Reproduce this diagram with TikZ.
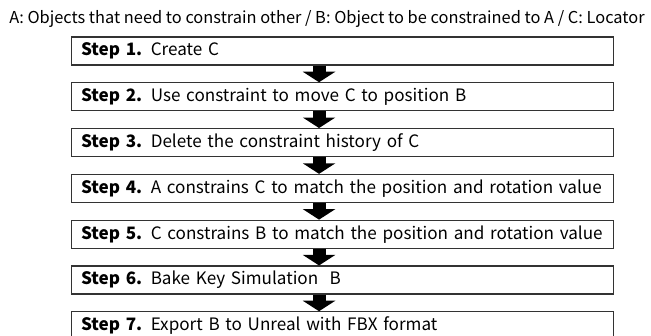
\documentclass[tikz,border=0pt]{standalone}
\usepackage{fontspec}
\setmainfont{Noto Sans CJK KR}
\usepackage{tikz}
\usetikzlibrary{arrows.meta}
\tikzset{
  stepbox/.style={
    draw=black!80,
    line width=1.1pt,
    rectangle,
    anchor=west,
    minimum width=542pt,
    minimum height=28pt,
    inner xsep=1pt,
    inner ysep=0pt,
    text width=540pt,
    align=left,
    font=\fontsize{17.1}{19}\selectfont},
  flow/.style={
    line width=13pt,
    -{Triangle[width=32pt,length=10.5pt]},
    black}
  }
\newcommand{\stp}[1]{\hspace*{8.5pt}\textbf{Step #1.}}

\begin{document}
\begin{tikzpicture}[x=1pt,y=1pt]
    \useasboundingbox (0,0) rectangle (651,336);
    \node (legend) at (327,317) {\fontsize{16.4}{18}\selectfont A: Objects that need to constrain other / B: Object to be constrained to A / C: Locator};
    \node[stepbox] (s1) at (71,285.0) {\stp{1} Create C};
    \node[stepbox] (s2) at (71,239.2) {\stp{2} Use constraint to move C to position B};
    \node[stepbox] (s3) at (71,193.4) {\stp{3} Delete the constraint history of C};
    \node[stepbox] (s4) at (71,147.6) {\stp{4} A constrains C to match the position and rotation value};
    \node[stepbox] (s5) at (71,101.8) {\stp{5} C constrains B to match the position and rotation value};
    \node[stepbox] (s6) at (71,56.0) {\stp{6} Bake Key Simulation~ B};
    \node[stepbox] (s7) at (71,10.2) {\stp{7} Export B to Unreal with FBX format};
    \draw [flow] ([xshift=-23.5pt]s1.south) -- ([xshift=-23.5pt]s2.north);
    \draw [flow] ([xshift=-23.5pt]s2.south) -- ([xshift=-23.5pt]s3.north);
    \draw [flow] ([xshift=-23.5pt]s3.south) -- ([xshift=-23.5pt]s4.north);
    \draw [flow] ([xshift=-23.5pt]s4.south) -- ([xshift=-23.5pt]s5.north);
    \draw [flow] ([xshift=-23.5pt]s5.south) -- ([xshift=-23.5pt]s6.north);
    \draw [flow] ([xshift=-23.5pt]s6.south) -- ([xshift=-23.5pt]s7.north);
  \end{tikzpicture}
\end{document}
